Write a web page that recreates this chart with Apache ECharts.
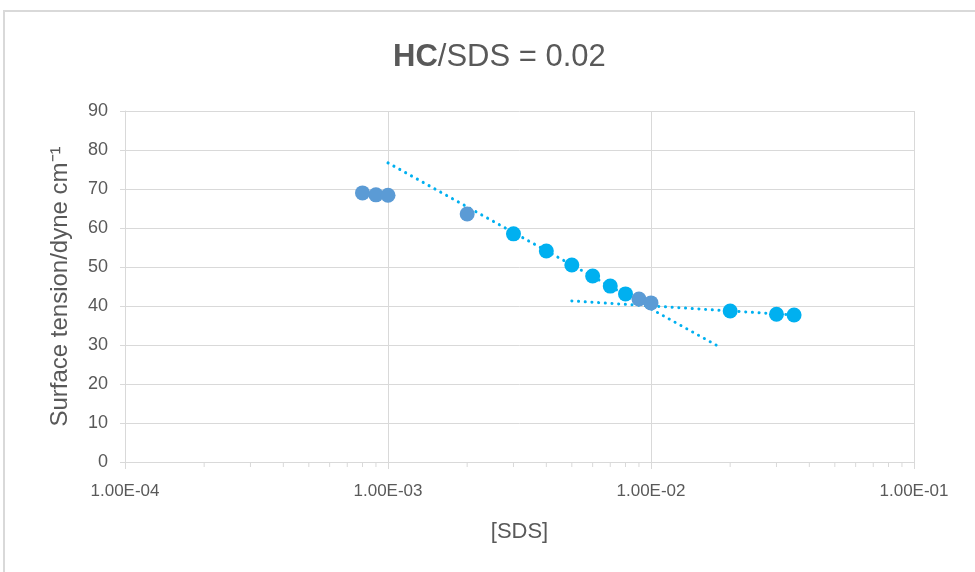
<!DOCTYPE html>
<html>
<head>
<meta charset="utf-8">
<script src="https://cdn.jsdelivr.net/npm/echarts@6/dist/echarts.min.js"></script>
<style>
  html, body { margin: 0; padding: 0; background: #fff; }
  #chart { width: 975px; height: 572px; }
</style>
</head>
<body>
<div id="chart"></div>
<script>
// Surface tension of SDS solutions with HC/SDS = 0.02
const FONT = "'Liberation Sans', Arial, sans-serif";

// Points in the first (blue) group
const blueConc = [0.0008, 0.0009, 0.001, 0.002, 0.009, 0.01];
const blueTension = [69.0, 68.5, 68.4, 63.6, 41.8, 40.8];

// Points in the second (cyan) group
const cyanConc = [0.003, 0.004, 0.005, 0.006, 0.007, 0.008, 0.02, 0.03, 0.035];
const cyanTension = [58.5, 54.1, 50.5, 47.7, 45.1, 43.1, 38.7, 37.9, 37.7];

// Logarithmic trend lines (straight on a log axis): end points
const trendPreConc = [0.001, 0.018];
const trendPreTension = [76.7, 29.7];
const trendPostConc = [0.005, 0.035];
const trendPostTension = [41.3, 37.7];

// Axis ticks
const xDecades = [1e-4, 1e-3, 1e-2, 1e-1];
const yTicks = [0, 10, 20, 30, 40, 50, 60, 70, 80, 90];

const zip = (xs, ys) => xs.map((x, i) => [x, ys[i]]);

// Minor tick positions 2..9 within each decade
const minorTicks = [];
for (let d = 0; d < xDecades.length - 1; d++) {
  for (let m = 2; m <= 9; m++) minorTicks.push([xDecades[d] * m, 0]);
}

function sci(v) {
  const e = Math.round(Math.log10(v));
  const m = v / Math.pow(10, e);
  const sign = e < 0 ? '-' : '+';
  const ae = Math.abs(e);
  return m.toFixed(2) + 'E' + sign + (ae < 10 ? '0' + ae : '' + ae);
}

const grey = '#d9d9d9';
const textGrey = '#595959';
const dotted = { width: 3, color: '#00b0f0', type: [0.1, 6.6], cap: 'round' };

const chart = echarts.init(document.getElementById('chart'));
chart.setOption({
  animation: false,
  backgroundColor: '#ffffff',
  graphic: [{
    type: 'rect',
    shape: { x: 4, y: 11, width: 1000, height: 600 },
    style: { fill: 'none', stroke: grey, lineWidth: 2 },
    silent: true
  }],
  title: {
    text: '{b|HC}{n|/SDS = 0.02}',
    left: 388,
    top: 37,
    textStyle: {
      fontWeight: 'normal',
      rich: {
        b: { fontFamily: FONT, fontSize: 31, fontWeight: 'bold', color: textGrey },
        n: { fontFamily: FONT, fontSize: 31, fontWeight: 'normal', color: textGrey }
      }
    }
  },
  grid: { left: 125, right: 61, top: 111, bottom: 110 },
  xAxis: {
    type: 'log',
    logBase: 10,
    min: xDecades[0],
    max: xDecades[xDecades.length - 1],
    name: '[SDS]',
    nameLocation: 'middle',
    nameGap: 59,
    nameTextStyle: { fontFamily: FONT, fontSize: 22, color: textGrey },
    axisLine: { show: true, lineStyle: { color: grey, width: 1 } },
    axisTick: { show: true, length: 7, lineStyle: { color: grey } },
    axisLabel: {
      fontFamily: FONT, fontSize: 17, color: textGrey, margin: 21,
      formatter: v => sci(v)
    },
    splitLine: { show: true, lineStyle: { color: grey, width: 1 } },
    minorTick: { show: false },
    minorSplitLine: { show: false }
  },
  yAxis: {
    type: 'value',
    min: yTicks[0],
    max: yTicks[yTicks.length - 1],
    interval: 10,
    name: 'Surface tension/dyne cm\u207B\u00B9',
    nameLocation: 'middle',
    nameGap: 53,
    nameTextStyle: { fontFamily: FONT, fontSize: 24, color: textGrey },
    axisLine: { show: true, lineStyle: { color: grey, width: 1 } },
    axisTick: { show: true, length: 5, lineStyle: { color: grey } },
    axisLabel: { fontFamily: FONT, fontSize: 18, color: textGrey, margin: 17 },
    splitLine: { show: true, lineStyle: { color: grey, width: 1 } }
  },
  series: [
    {
      type: 'custom',
      name: 'minor ticks',
      silent: true,
      clip: false,
      z: 1,
      data: minorTicks,
      renderItem: (params, api) => {
        const p = api.coord([api.value(0), 0]);
        return {
          type: 'line',
          shape: { x1: p[0], y1: p[1], x2: p[0], y2: p[1] + 5 },
          style: { stroke: grey, lineWidth: 1 }
        };
      }
    },
    {
      type: 'line',
      name: 'trend pre-CMC',
      data: zip(trendPreConc, trendPreTension),
      showSymbol: false,
      lineStyle: dotted,
      z: 3,
      silent: true
    },
    {
      type: 'line',
      name: 'trend post-CMC',
      data: zip(trendPostConc, trendPostTension),
      showSymbol: false,
      lineStyle: dotted,
      z: 3,
      silent: true
    },
    {
      type: 'scatter',
      name: 'cyan',
      data: zip(cyanConc, cyanTension),
      symbol: 'circle',
      symbolSize: 15,
      itemStyle: { color: '#00b0f0', opacity: 1 },
      z: 4
    },
    {
      type: 'scatter',
      name: 'blue',
      data: zip(blueConc, blueTension),
      symbol: 'circle',
      symbolSize: 15,
      itemStyle: { color: '#5b9bd5', opacity: 1 },
      z: 5
    }
  ]
});
</script>
</body>
</html>
